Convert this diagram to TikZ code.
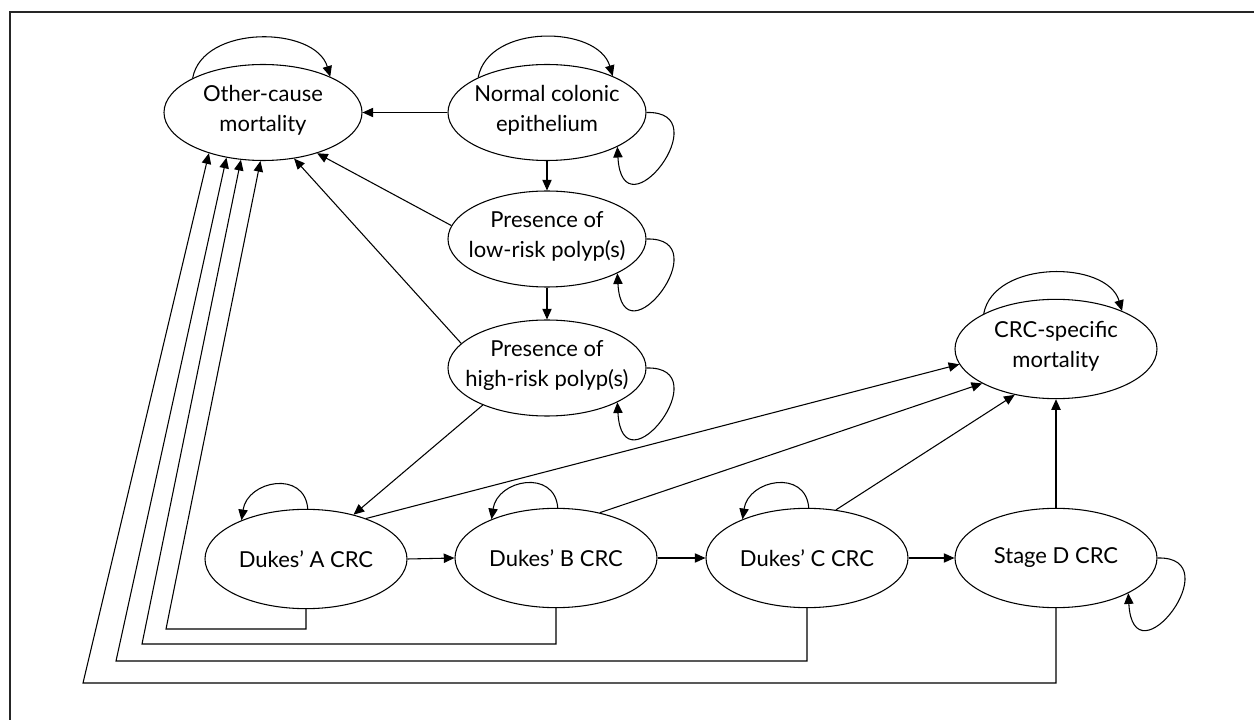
\documentclass[tikz,border=0pt]{standalone}
\usepackage{fontspec}
\setmainfont{Lato}
\usetikzlibrary{arrows.meta,shapes.geometric,calc}
\begin{document}
\begin{tikzpicture}[x=0.75pt,y=-0.75pt,
  state/.style={draw, ellipse, line width=0.8pt, minimum width=148.5pt, minimum height=72pt, inner sep=0pt},
  lowstate/.style={state, minimum width=151.5pt, minimum height=74.5pt},
  lbl/.style={align=center, font=\fontsize{16.5}{22.5}\selectfont, inner sep=0pt},
  lbltwo/.style={lbl, yshift=2pt},
  arr/.style={line width=0.8pt, -{Triangle[length=8pt,width=7pt]}},
  frame/.style={line width=1pt, black!85}]
\useasboundingbox (0,0) rectangle (1254,720);
\draw[frame] (1254,12) -- (10,12) -- (10,720);

% states
\node[state] (other) at (263,112.5) {};
\node[lbltwo] (other-t) at (other) {Other-cause\\mortality};
\node[state] (normal) at (547,112.5) {};
\node[lbltwo] (normal-t) at (normal) {Normal colonic\\epithelium};
\node[state] (low) at (547,239) {};
\node[lbltwo] (low-t) at (low) {Presence of\\low-risk polyp(s)};
\node[state] (high) at (547,368) {};
\node[lbltwo] (high-t) at (high) {Presence of\\high-risk polyp(s)};
\node[lowstate] (crc) at (1056,349) {};
\node[lbltwo] (crc-t) at (crc) {CRC-specific\\mortality};
\node[lowstate] (dA) at (306,559) {};
\node[lbl] (dA-t) at (dA) {Dukes’ A CRC};
\node[lowstate] (dB) at (556,558) {};
\node[lbl] (dB-t) at (dB) {Dukes’ B CRC};
\node[lowstate] (dC) at (807,558) {};
\node[lbl] (dC-t) at (dC) {Dukes’ C CRC};
\node[lowstate] (dD) at (1056,558) {};
\node[lbl] (dD-t) at (dD) {Stage D CRC};

% main transitions
\draw[arr] (normal.west) -- (other.east);
\draw[arr] (normal.south) -- (low.north);
\draw[arr] (low.south) -- (high.north);
\draw[arr] (low.172) -- (other.-37);
\draw[arr] (high.164) -- (other.-56);
\draw[arr] (high.-150) -- (dA.43);
\draw[arr] (dA.east) -- (dB.west);
\draw[arr] (dB.east) -- (dC.west);
\draw[arr] (dC.east) -- (dD.west);
\draw[arr] (dD.north) -- (crc.south);
\draw[arr] (dA.34) -- (crc.189);
\draw[arr] (dB.46) -- (crc.205);
\draw[arr] (dC.59) -- (crc.228);

% returns to other-cause mortality
\coordinate (cA) at (166,629);
\coordinate (cB) at (142,644);
\coordinate (cC) at (116,661);
\coordinate (cD) at (83,683);
\draw[arr] (dA.south) |- (cA) -- (other.-93);
\draw[arr] (dB.south) |- (cB) -- (other.-115);
\draw[arr] (dC.south) |- (cC) -- (other.-129);
\draw[arr] (dD.south) |- (cD) -- (other.-143);

% top self-loops
\draw[arr] (other.154) .. controls ($(other.154)+(10,-54)$) and ($(other.28)+(-15,-51)$) .. (other.28);
\draw[arr] (normal.153) .. controls ($(normal.153)+(10,-54)$) and ($(normal.29)+(-15,-51)$) .. (normal.29);
\draw[arr] (crc.154) .. controls ($(crc.154)+(10,-54)$) and ($(crc.30)+(-15,-51)$) .. (crc.30);

% right self-loops
\draw[arr] (normal.0) .. controls ($(normal.0)+(74,-2)$) and ($(normal.-26)+(5,92)$) .. (normal.-26);
\draw[arr] (low.0) .. controls ($(low.0)+(74,-2)$) and ($(low.-26)+(5,92)$) .. (low.-26);
\draw[arr] (high.0) .. controls ($(high.0)+(74,-2)$) and ($(high.-26)+(5,92)$) .. (high.-26);
\draw[arr] (dD.0) .. controls ($(dD.0)+(74,-2)$) and ($(dD.-26)+(5,92)$) .. (dD.-26);

% Dukes self-loops
\draw[arr] (dA.88) .. controls ($(dA.88)+(-3,-39)$) and ($(dA.149)+(6,-40)$) .. (dA.149);
\draw[arr] (dB.88) .. controls ($(dB.88)+(-3,-39)$) and ($(dB.149)+(6,-40)$) .. (dB.149);
\draw[arr] (dC.88) .. controls ($(dC.88)+(-3,-39)$) and ($(dC.149)+(6,-40)$) .. (dC.149);
\end{tikzpicture}
\end{document}
